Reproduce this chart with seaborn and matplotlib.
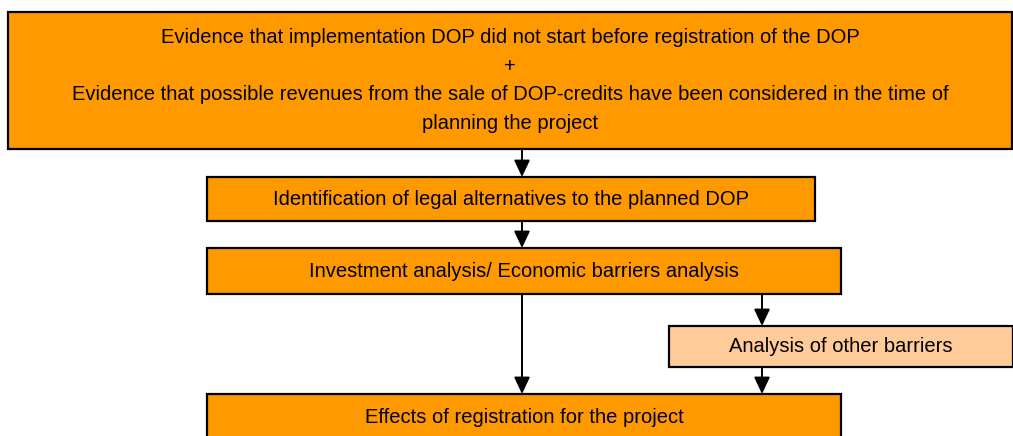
import matplotlib
matplotlib.use("Agg")
import matplotlib.pyplot as plt
import seaborn as sns
from matplotlib.patches import Rectangle

sns.set_theme(style="white")
plt.rcParams['font.family'] = ['Liberation Sans', 'DejaVu Sans']

# Flowchart content
step_labels = [
    "Evidence that implementation DOP did not start before registration of the DOP\n+\n"
    "Evidence that possible revenues from the sale of DOP-credits have been considered in the time of\n"
    "planning the project",
    "Identification of legal alternatives to the planned DOP",
    "Investment analysis/ Economic barriers analysis",
    "Analysis of other barriers",
    "Effects of registration for the project",
]
step_kinds = ["main", "main", "main", "side", "main"]

# layout (pixel coordinates: x0, y0, x1, y1)
boxes = [
    (8, 12, 1012, 149),
    (207, 177, 815, 221),
    (207, 248, 841, 294),
    (669, 326, 1013, 367),
    (207, 394, 841, 440),
]
fills = {"main": "#FF9900", "side": "#FFCC99"}
arrows = [
    (522, 149, 177),
    (522, 221, 248),
    (522, 294, 394),
    (762, 294, 326),
    (762, 367, 394),
]

fig = plt.figure(figsize=(10.13, 4.36), dpi=100)
ax = fig.add_axes([0, 0, 1, 1])
ax.set_xlim(0, 1013)
ax.set_ylim(436, 0)
ax.axis("off")

for (x0, y0, x1, y1), label, kind in zip(boxes, step_labels, step_kinds):
    ax.add_patch(Rectangle((x0, y0), x1 - x0, y1 - y0, facecolor=fills[kind],
                           edgecolor="black", linewidth=1.6, clip_on=False))
    cy = (y0 + y1) / 2
    if y1 > 436:
        cy = y0 + 23
    cx = (x0 + x1) / 2
    ax.text(cx, cy, label, ha="center", va="center", fontsize=14.5,
            color="black", linespacing=1.63)

for x, ya, yb in arrows:
    ax.annotate("", xy=(x, yb), xytext=(x, ya),
                arrowprops=dict(arrowstyle="-|>,head_length=0.85,head_width=0.4",
                                color="black", lw=1.4, shrinkA=0, shrinkB=0))

fig.savefig("out.png", dpi=100)
